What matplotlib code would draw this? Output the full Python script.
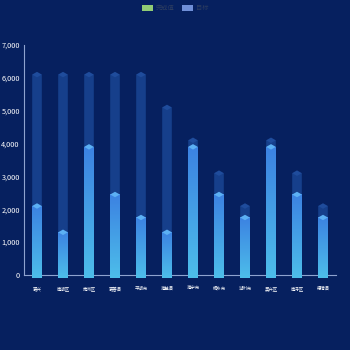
import matplotlib
matplotlib.use("Agg")
import matplotlib.pyplot as plt
import numpy as np
from matplotlib.patches import Polygon, Rectangle
from matplotlib.ticker import FuncFormatter
from matplotlib.colors import LinearSegmentedColormap

plt.rcParams['font.family'] = ['Noto Sans CJK SC', 'DejaVu Sans']

categories = ['嘉兴', '南湖区', '秀洲区', '嘉善县', '平湖市', '海盐县',
              '海宁市', '桐乡市', '湖州市', '吴兴区', '南浔区', '德清县']
actual = [2100, 1300, 3900, 2450, 1750, 1300, 3900, 2450, 1750, 3900, 2450, 1750]
target = [6100, 6100, 6100, 6100, 6100, 5100, 4100, 3100, 2100, 4100, 3100, 2100]
legend_labels = ['完成值', '目标']
yticks = [0, 1000, 2000, 3000, 4000, 5000, 6000, 7000]

BG = '#06205f'
fig = plt.figure(figsize=(3.5, 3.5), dpi=100, facecolor=BG)
ax = fig.add_axes([24/350, 75/350, 312/350, 230/350])
ax.set_facecolor(BG)
ax.set_xlim(-0.5, len(categories) - 0.5)
ax.set_ylim(0, 7000)

w = 0.37
px_per_unit = 230 / 7000.0
h = 5.5 / px_per_unit  # cap height in data units

grad = np.linspace(0, 1, 256).reshape(-1, 1)
cmap = LinearSegmentedColormap.from_list('g', ['#4dbeea', '#3c82e2'])

for i, (a, t) in enumerate(zip(actual, target)):
    body = Polygon([(i - w/2, t), (i - w/2, 0), (i, -h/2), (i + w/2, 0), (i + w/2, t)],
                   closed=True, facecolor='#163f8b', edgecolor='none', zorder=1, clip_on=False)
    ax.add_patch(body)
    cap = Polygon([(i - w/2, t), (i, t + h/2), (i + w/2, t), (i, t - h/2)],
                  closed=True, facecolor='#1f4c9c', edgecolor='none', zorder=1.5, clip_on=False)
    ax.add_patch(cap)
    fb = Polygon([(i - w/2, a), (i - w/2, 0), (i, -h/2), (i + w/2, 0), (i + w/2, a)],
                 closed=True, facecolor='none', edgecolor='none', zorder=2, clip_on=False)
    ax.add_patch(fb)
    im = ax.imshow(grad, extent=[i - w/2, i + w/2, -h/2, a], origin='lower', cmap=cmap,
                   aspect='auto', zorder=2, clip_on=False)
    im.set_clip_path(fb)
    fcap = Polygon([(i - w/2, a), (i, a + h/2), (i + w/2, a), (i, a - h/2)],
                   closed=True, facecolor='#5cb0f4', edgecolor='none', zorder=3, clip_on=False)
    ax.add_patch(fcap)

ax.set_xlim(-0.5, len(categories) - 0.5)
ax.set_ylim(0, 7000)
ax.set_xticks(range(len(categories)))
ax.set_xticklabels(categories, fontsize=3.2, color='white')
ax.set_yticks(yticks)
ax.yaxis.set_major_formatter(FuncFormatter(lambda v, p: f'{int(v):,}'))
ax.tick_params(axis='y', labelsize=5.3, colors='white', length=0, pad=3)
ax.tick_params(axis='x', length=0, pad=8)
for s in ['top', 'right']:
    ax.spines[s].set_visible(False)
ax.spines['left'].set_color('#8ea3cf')
ax.spines['left'].set_linewidth(0.8)
ax.spines['bottom'].set_color('#8ea3cf')
ax.spines['bottom'].set_linewidth(0.8)
ax.spines['bottom'].set_zorder(1.8)

handles = [Rectangle((0, 0), 1, 1, facecolor='#91cc75'), Rectangle((0, 0), 1, 1, facecolor='#6f8fd8')]
fig.legend(handles, legend_labels, loc='upper center', bbox_to_anchor=(0.5, 1.005), ncol=2,
           frameon=False, fontsize=4.5, handlelength=1.8, handleheight=1.2,
           columnspacing=1.2, handletextpad=0.4, labelcolor='#2c3c60')

fig.savefig('out.png', dpi=100, facecolor=BG)
